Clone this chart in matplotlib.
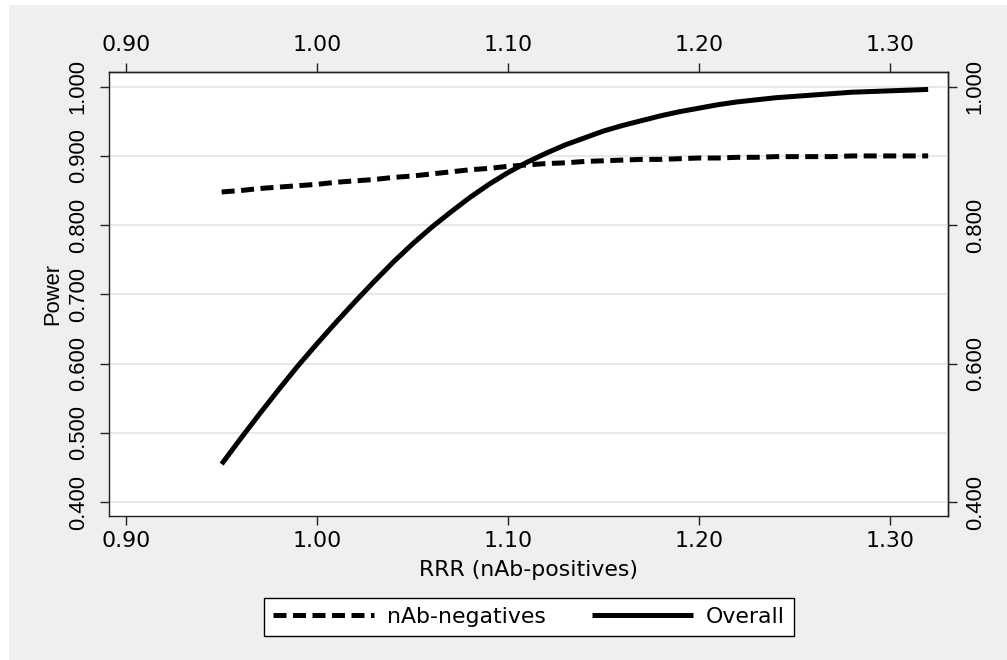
import matplotlib
matplotlib.use("Agg")
import matplotlib.pyplot as plt
from matplotlib.patches import Rectangle
from matplotlib.ticker import FormatStrFormatter

plt.rcParams['font.family'] = ['DejaVu Sans']
VFONT = ['Liberation Sans', 'DejaVu Sans']

# RRR (nAb-positives)
rrr = [0.95, 0.96, 0.97, 0.98, 0.99, 1.00, 1.01, 1.02, 1.03, 1.04,
       1.05, 1.06, 1.07, 1.08, 1.09, 1.10, 1.11, 1.12, 1.13, 1.14,
       1.15, 1.16, 1.17, 1.18, 1.19, 1.20, 1.21, 1.22, 1.23, 1.24,
       1.25, 1.26, 1.27, 1.28, 1.29, 1.30, 1.31, 1.32]

power_neg = [0.848, 0.850, 0.853, 0.855, 0.857, 0.859, 0.862, 0.864, 0.866, 0.869,
             0.871, 0.874, 0.877, 0.880, 0.882, 0.885, 0.887, 0.889, 0.890, 0.892,
             0.893, 0.894, 0.895, 0.895, 0.896, 0.897, 0.897, 0.898, 0.898, 0.899,
             0.899, 0.899, 0.899, 0.900, 0.900, 0.900, 0.900, 0.900]

power_overall = [0.455, 0.492, 0.528, 0.563, 0.597, 0.629, 0.660, 0.690, 0.719, 0.747,
                 0.773, 0.797, 0.819, 0.840, 0.859, 0.876, 0.891, 0.904, 0.916, 0.926,
                 0.936, 0.944, 0.951, 0.958, 0.964, 0.969, 0.974, 0.978, 0.981, 0.984,
                 0.986, 0.988, 0.990, 0.992, 0.993, 0.994, 0.995, 0.996]

x_ticks = [0.90, 1.00, 1.10, 1.20, 1.30]
y_ticks = [0.400, 0.500, 0.600, 0.700, 0.800, 0.900, 1.000]
y_ticks_right = [0.400, 0.600, 0.800, 1.000]

W, H = 1007, 660
fig = plt.figure(figsize=(W / 100, H / 100), dpi=100)
fig.patch.set_facecolor('white')
bg = '#efefef'
fig.patches.append(Rectangle((9 / W, 0), 1 - 9 / W, 1 - 5 / H, transform=fig.transFigure,
                             facecolor=bg, edgecolor='none', zorder=-10))

ax = fig.add_axes([109 / W, 1 - 516 / H, (948 - 109) / W, (516 - 72) / H])
ax.set_facecolor('white')

fs = 15.8
lw = 3.6
tc = '#222222'
ax.plot(rrr, power_neg, color='black', lw=lw, linestyle=(0, (2.6, 1.3)),
        dash_capstyle='butt', label='nAb-negatives', zorder=3)
ax.plot(rrr, power_overall, color='black', lw=lw, solid_capstyle='butt',
        label='Overall', zorder=3)

ax.set_xlim(0.891, 1.3304)
ax.set_ylim(0.380, 1.0212)

ax.set_xticks(x_ticks)
ax.set_yticks(y_ticks)
ax.xaxis.set_major_formatter(FormatStrFormatter('%.2f'))
ax.yaxis.set_major_formatter(FormatStrFormatter('%.3f'))
ax.grid(axis='y', color='#e6e6e6', lw=1.3, zorder=0)
ax.grid(axis='x', visible=False)

ax.tick_params(axis='x', top=False, labeltop=False, bottom=True, labelbottom=True,
               direction='out', length=6.5, width=1, labelsize=fs, color=tc, pad=4.5)
ax.tick_params(axis='y', left=True, labelleft=True, direction='out', length=6.5, width=1,
               labelsize=fs, color=tc, labelrotation=90, pad=8)
for lab in ax.get_yticklabels():
    lab.set_va('center')
    lab.set_family(VFONT)

secx = ax.secondary_xaxis('top')
secx.set_xticks(x_ticks)
secx.xaxis.set_major_formatter(FormatStrFormatter('%.2f'))
secx.tick_params(direction='out', length=6.5, width=1, labelsize=fs, color=tc, pad=5.5)
secx.spines['top'].set_linewidth(1.0)
secx.spines['top'].set_color(tc)

secy = ax.secondary_yaxis('right')
secy.set_yticks(y_ticks_right)
secy.yaxis.set_major_formatter(FormatStrFormatter('%.3f'))
secy.tick_params(direction='out', length=6.5, width=1, labelsize=fs, color=tc,
                 labelrotation=90, pad=5.5)
secy.spines['right'].set_linewidth(1.0)
secy.spines['right'].set_color(tc)
for lab in secy.get_yticklabels():
    lab.set_va('center')
    lab.set_family(VFONT)

for s in ax.spines.values():
    s.set_linewidth(1.0)
    s.set_color(tc)

ax.set_xlabel('RRR (nAb-positives)', fontsize=fs, labelpad=6)
ax.set_ylabel('Power', fontsize=fs, labelpad=3, family=VFONT)

leg = fig.legend(loc='center', bbox_to_anchor=(529 / W, 1 - 617 / H), ncol=2,
                 fontsize=fs, frameon=True, fancybox=False, edgecolor='black',
                 facecolor='white', handlelength=4.6, columnspacing=2.1,
                 handletextpad=0.6, borderpad=0.4, framealpha=1)
leg.get_frame().set_linewidth(1.0)

fig.savefig('out.png', dpi=100, facecolor=fig.get_facecolor())
